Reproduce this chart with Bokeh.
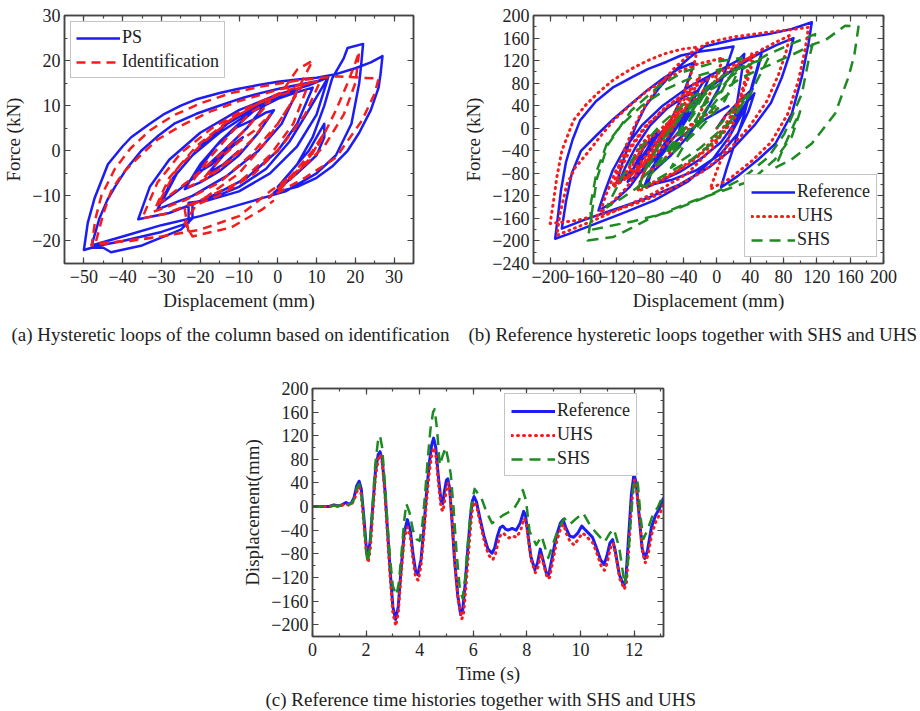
from bokeh.plotting import figure
from bokeh.models import (Range1d, LinearAxis, SingleIntervalTicker, Legend, LegendItem, Title,
                          CustomJSTickFormatter)
from bokeh.layouts import column, row
from bokeh.embed import file_html
from bokeh.resources import INLINE

# ---------------- Panel (a) data: PS vs Identification ----------------
a_ps_x = [-10, -14, -18, -13, -9, -12, -17, -21, -16, -11, -6, -3, -1, -5, -10, -15, -20, -24, -20, -15, -10, -6, -3,
          -8, -14, -21, -26, -30, -26, -20, -13, -5, 2, 5, 1, -5, -13, -22, -31, -27, -22, -15, -7, 0, 5, 9,
          5, 0, -8, -18, -28, -36, -33, -28, -20, -10, 0, 8, 13,
          10, 5, -2, -10, -18, -23, -23, -30, -40, -46, -50,
          -49, -47.2, -43.8, -40, -37.8, -33, -29.2, -25, -20.7, -15, -10.4, -5, 0, 5, 10, 15, 20, 24, 27,
          26.5, 26, 24, 21, 18, 14, 10, 5, -1,
          5, 10, 12, 12, 8, 3, 0,
          5, 9, 12, 14, 17, 18, 22, 21.5, 21, 19, 15, 10, 2, -10, -20, -30, -40, -48,
          -46, -44, -42, -39, -35.2, -31, -26.7, -21, -16.4, -12, -8.7, -4, 0, 5, 10, 13,
          8, 3, -3, -10, -17, -22, -22, -25, -35, -43, -45, -48]
a_ps_y = [0, -3, -5, 0, 3, 1, -3, -5, 1, 5, 7, 8.5, 9, 4, -1, -4.5, -7, -8.5, -3, 2, 6, 9, 10.5,
          5, 0, -5.5, -9, -11.5, -5, 1, 6, 10, 12.5, 13.2, 6, 0, -5.5, -10, -13, -6, -1, 4, 8.5, 11.5, 13, 14,
          6, 0, -6, -10.5, -13.8, -15.2, -8, -2, 4, 9, 12.5, 14.5, 16.3,
          8, 1, -5, -9, -11, -11.5, -16, -18, -20, -21, -22,
          -16, -10.4, -3, 1, 3, 6, 8.2, 10, 11.5, 12.8, 13.7, 14.6, 15.3, 15.8, 16.2, 17, 18.3, 19.6, 21,
          17, 14, 9, 4, 0, -3.5, -6, -8, -9.3,
          -5, -1, 3, 6, 0, -5, -8,
          -3, 3, 10, 16, 20.5, 22.8, 23.7, 19, 15, 6, -1, -5, -9, -12, -14.5, -16.5, -19, -21,
          -15, -11, -8, -4, 0, 3.2, 6, 8.2, 9.6, 10.9, 11.8, 12.9, 13.7, 14.6, 15.4, 16.3,
          9, 2, -4, -8, -10.5, -11.5, -15, -17.5, -21, -22.5, -21.5, -21.5]

a_id_x = [-10, -15, -19, -14, -10, -6, -2, -6, -12, -18, -23, -18, -12, -7, -2, -8, -15, -22, -28, -31, -26, -19, -12,
          -4, 3, 6, 0, -7, -15, -24, -32, -28, -21, -13, -5, 3, 8, 4, -2, -10, -20, -29, -35, -31, -25, -17, -8,
          1, 5, 9, 3, -3, -10, -18, -24, -23, -30, -40, -48,
          -47, -45.5, -42, -38, -33, -27, -20, -12, -4, 5, 15, 26,
          25, 21.7, 15, 7, -2.3, 4, 9, 12, 8, 3, 0, 6, 11, 15, 18, 20, 21, 20, 17, 12, 6, -2, -10, -20, -30, -38, -47,
          -45, -43, -40, -36, -31, -25, -18, -10, 0, 8, 11,
          7, 1, -6, -14, -21, -24, -22, -12, -4, -1]
a_id_y = [0, -4, -6, -1, 2, 4.5, 8, 3, -2, -6, -8, -2, 4, 8.5, 11, 5, -1, -6, -10, -12, -4, 2, 7,
          11, 13, 14, 6, -1, -7, -11, -13.5, -6, 1, 6.5, 10.5, 13.5, 15, 6, -1, -7, -11, -14, -15, -7, -0.5, 5, 9.5,
          13, 18, 20, 10, 2, -5, -10, -13, -18, -19, -20, -21,
          -15, -10, -4, 0.5, 4.5, 7.8, 10.5, 12.8, 14.3, 15.6, 16.5, 16,
          12.7, 6.7, -1.5, -6, -10.4, -5, 0, 4, -2, -6, -9, -4, 2, 9, 15, 19.5, 22, 15, 8, 1, -4, -9, -14.5, -17.5, -19, -20, -20.5,
          -14, -9, -5, -1.5, 2.5, 5.5, 8.5, 11, 13.5, 15, 15.5,
          8, 1, -5, -9.5, -12, -16, -19, -17, -13, -11]

# ---------------- Panel (b) data: Reference, UHS, SHS loops ----------------
b_ref_x = [0, 10, 25, 43, 35, 22, 5, -20, -45, -70, -84, -78, -68, -52, -35, -10, 20, 50, 72, 92,
           87, 78, 65, 45, 20, -10, -45, -85, -125, -160, -186,
           -181, -174, -163, -144, -125, -103, -83, -63, -45, -27,
           -33, -42, -55, -72, -92, -108, -120,
           -114, -106, -97, -86, -70, -52, -33, -15, 20, 62, 90, 114,
           110, 102, 90, 70, 50, 25, 5,
           12, 22, 32, 42, 50, 55,
           50, 42, 30, 15, -5, -35, -75, -115, -150, -175, -194,
           -191, -187, -181, -173, -164, -145, -124, -100, -83, -60, -43, -20, 0, 20,
           12, 2, -15, -35, -55, -79, -70, -58, -45, -34, -40, -45,
           -38, -28, -18, -8, -15, -28, -45, -65, -88, -107, -98, -88, -72, -85, -100, -118,
           -110, -98, -80, -60, -40, -22, -30, -42, -52, -45, -34, -42, -45,
           -60, -78, -98, -88, -72, -56, -68, -85, -105, -125, -142,
           -135, -125, -110, -90, -65, -35, 0, 25, 33, 28, 21, 30, 45,
           38, 25, 5, -25, -55, -87, -78, -62, -40, -15, 15]
b_ref_y = [0, 22, 45, 70, 45, 10, -25, -55, -78, -95, -105, -75, -40, 0, 35, 70, 105, 132, 148, 160,
           130, 90, 45, 5, -35, -70, -100, -125, -145, -163, -178,
           -130, -80, -40, -12, 15, 43, 68, 90, 106, 117,
           90, 55, 15, -25, -60, -82, -96,
           -65, -30, 5, 38, 70, 100, 125, 145, 157, 167, 176, 188,
           150, 91, 26, -28, -55, -85, -105,
           -70, -25, 20, 75, 115, 141,
           110, 70, 25, -15, -55, -95, -128, -152, -172, -186, -196,
           -160, -110, -60, -20, 14, 48, 73, 92, 105, 118, 129, 136, 140, 145,
           110, 70, 25, -15, -48, -80, -50, -15, 12, 30, 10, -2,
           25, 55, 78, 95, 70, 35, -5, -40, -75, -95, -65, -35, -8, -40, -72, -98,
           -70, -35, 5, 35, 55, 67, 45, 15, -5, 18, 38, 15, 8,
           -25, -60, -85, -50, -15, 8, -25, -65, -105, -132, -146,
           -115, -75, -35, 5, 40, 72, 100, 120, 132, 80, 14, 35, 62,
           30, -10, -45, -75, -92, -103, -70, -40, -12, 15, 40]

b_uhs_x = [0, 10, 22, 33, 25, 10, -10, -35, -60, -80, -95, -88, -78, -62, -42, -15, 15, 45, 70, 88,
           83, 74, 60, 40, 15, -15, -50, -90, -130, -170, -200,
           -196, -192, -186, -172, -158, -144, -124, -103, -83, -63, -43, -23,
           -27, -35, -48, -66, -88, -108, -125,
           -118, -110, -100, -88, -70, -50, -30, -10, 20, 60, 90, 110,
           106, 98, 85, 65, 42, 15, -8,
           0, 12, 22, 32, 38, 42,
           37, 28, 15, -5, -35, -75, -115, -150, -175, -192,
           -188, -180, -170, -156, -140, -124, -103, -83, -63, -43, -23, 0, 8,
           0, -10, -25, -45, -65, -90, -80, -67, -55, -45, -50, -55,
           -48, -38, -28, -20, -28, -40, -58, -78, -98, -112, -104, -94, -80, -92, -106, -122,
           -115, -103, -85, -65, -45, -30, -40, -55, -65, -57, -45, -52, -55,
           -70, -88, -108, -98, -80, -60, -72, -90, -110, -128, -140,
           -133, -122, -105, -85, -58, -25, 10, 35, 45,
           38, 25, 5, -20, -50, -75, -95, -85, -68, -45, -20, 5]
b_uhs_y = [0, 20, 40, 58, 30, -5, -35, -65, -88, -102, -112, -80, -45, -5, 30, 68, 102, 132, 152, 165,
           135, 95, 48, 5, -38, -75, -105, -130, -150, -164, -169,
           -130, -87, -40, 14, 40, 61, 86, 105, 120, 132, 140, 144,
           115, 78, 35, -10, -55, -88, -105,
           -70, -35, 0, 35, 75, 108, 135, 152, 162, 170, 175, 179,
           140, 85, 25, -25, -58, -90, -108,
           -75, -30, 20, 75, 110, 132,
           100, 55, 10, -35, -80, -115, -142, -165, -180, -190,
           -150, -100, -70, -45, -15, 14, 42, 67, 85, 102, 114, 122, 125,
           95, 55, 15, -25, -58, -88, -55, -20, 5, 22, 5, -5,
           25, 55, 78, 92, 65, 28, -12, -48, -78, -92, -65, -35, -10, -42, -72, -100,
           -72, -35, 3, 33, 55, 66, 40, 5, -12, 12, 35, 15, 8,
           -25, -62, -90, -55, -18, 8, -28, -70, -108, -135, -150,
           -118, -78, -35, 5, 40, 75, 105, 122, 130,
           90, 40, -5, -45, -78, -95, -106, -70, -38, -8, 18, 38]

b_shs_x = [0, 15, 38, 20, 0, -30, -65, -95, -85, -65, -40, -10, 25, 60, 90, 118,
           110, 102, 81, 62, 30, -10, -60, -100, -150,
           -152, -144, -132, -115, -90, -60, -30, 5, -10, -25, -40, -58, -45, -25, 0, 30, 60, 90, 118, 130, 154, 170,
           165, 158, 142, 114, 90, 70, 80, 92, 100, 90, 70, 41, 9, -30, -80, -124, -155,
           -150, -144, -131, -103, -71, -40, 0, 30, 15, 0, -28, -10, 10, 28, 10, -20, -42, -65, -50, -70, -87,
           -70, -45, -20, -30, -11, -31, -45, -60, -39, -60, -90, -115, -132,
           -115, -95, -65, -30, 10, 40, 62, 40, 15, -20, -55, -35, -14, 5, 22]
b_shs_y = [0, 25, 60, 20, -20, -55, -85, -110, -70, -20, 25, 65, 100, 130, 150, 167,
           120, 61, -10, -51, -90, -120, -150, -165, -180,
           -140, -75, -28, 5, 40, 70, 90, 105, 60, 15, -20, -45, -10, 30, 60, 90, 110, 130, 150, 156, 182, 180,
           130, 91, 26, -27, -55, -70, -35, 5, 30, -15, -55, -93, -110, -130, -160, -193, -199,
           -150, -90, -30, 31, 73, 100, 118, 125, 90, 50, 0, 40, 80, 110, 50, 0, -30, -60, -20, -60, -85,
           -30, 20, 60, 30, 70, 20, -20, -45, 10, -50, -100, -125, -140,
           -90, -40, 10, 55, 95, 115, 125, 60, 10, -35, -70, -20, 20, 50, 70]

# ---------------- Panel (c) data: displacement time histories ----------------
c_ref_t = [0, 0.6, 0.8, 0.95, 1.1, 1.25, 1.35, 1.45, 1.55, 1.65, 1.74, 1.82, 1.92, 2.0, 2.07, 2.15, 2.25, 2.35, 2.45, 2.52,
           2.6, 2.7, 2.8, 2.9, 3.0, 3.1, 3.2, 3.3, 3.42, 3.54, 3.65, 3.75, 3.85, 3.93, 4.05, 4.15, 4.25, 4.35, 4.45,
           4.52, 4.6, 4.7, 4.8, 4.86, 4.92, 5.0, 5.05, 5.12, 5.2, 5.3, 5.42, 5.53, 5.6, 5.7, 5.8, 5.9, 5.97, 6.03,
           6.12, 6.25, 6.4, 6.55, 6.7, 6.8, 6.9, 7.0, 7.1, 7.2, 7.3, 7.45, 7.6, 7.75, 7.88, 7.95, 8.05, 8.15, 8.3,
           8.4, 8.5, 8.6, 8.75, 8.82, 8.95, 9.1, 9.25, 9.35, 9.45, 9.6, 9.75, 9.9, 10.05, 10.15, 10.3, 10.45, 10.6,
           10.75, 10.88, 10.98, 11.1, 11.2, 11.3, 11.45, 11.62, 11.7, 11.8, 11.9, 12.0, 12.08, 12.2, 12.3, 12.4,
           12.5, 12.65, 12.8, 12.95, 13.1]
c_ref_d = [0, 0, 3, 1, 3, 7, 4, 6, 15, 35, 43, 30, -20, -65, -84, -60, 0, 60, 88, 93,
           80, 30, -40, -110, -170, -191, -170, -110, -45, -22, -40, -80, -110, -115, -90, -40, 20, 70, 105,
           116, 100, 50, 8, 5, 25, 45, 47, 30, -20, -90, -150, -183, -178, -130, -70, -15, 10, 17,
           8, -20, -50, -72, -79, -70, -50, -36, -33, -38, -40, -37, -40, -28, -8, -15, -50, -85, -107,
           -95, -72, -90, -117, -115, -85, -50, -28, -22, -35, -50, -52, -45, -33, -38, -45, -52, -70,
           -90, -98, -85, -62, -56, -75, -115, -135, -120, -50, 20, 56, 40, -20, -70, -88,
           -75, -35, -15, -3, 15]

c_uhs_t = [0, 0.6, 0.8, 0.95, 1.1, 1.25, 1.35, 1.45, 1.55, 1.65, 1.74, 1.82, 1.92, 2.0, 2.08, 2.16, 2.25, 2.35, 2.45, 2.53,
           2.6, 2.7, 2.8, 2.9, 3.0, 3.11, 3.2, 3.3, 3.42, 3.55, 3.65, 3.75, 3.85, 3.95, 4.05, 4.15, 4.25, 4.35, 4.45,
           4.53, 4.6, 4.7, 4.8, 4.87, 4.94, 5.02, 5.07, 5.14, 5.22, 5.32, 5.44, 5.57, 5.63, 5.72, 5.82, 5.92, 5.98, 6.05,
           6.14, 6.27, 6.42, 6.57, 6.73, 6.83, 6.93, 7.03, 7.13, 7.23, 7.33, 7.48, 7.62, 7.77, 7.9, 7.97, 8.07, 8.17, 8.32,
           8.42, 8.52, 8.62, 8.77, 8.85, 8.97, 9.12, 9.27, 9.37, 9.47, 9.62, 9.77, 9.92, 10.07, 10.17, 10.32, 10.47, 10.62,
           10.77, 10.9, 11.0, 11.12, 11.22, 11.32, 11.47, 11.64, 11.72, 11.82, 11.92, 12.02, 12.1, 12.22, 12.32, 12.42,
           12.52, 12.67, 12.82, 12.97, 13.1]
c_uhs_d = [0, 0, 2, 0, 2, 5, 2, 4, 10, 25, 33, 20, -30, -75, -95, -70, -10, 50, 80, 88,
           75, 25, -50, -120, -180, -202, -180, -120, -55, -35, -50, -90, -120, -125, -100, -50, 5, 55, 88,
           100, 88, 40, -3, -8, 12, 35, 40, 20, -30, -100, -160, -190, -185, -140, -80, -25, 0, 8,
           -2, -30, -60, -82, -90, -80, -60, -47, -45, -50, -53, -50, -52, -40, -20, -26, -60, -92, -112,
           -102, -80, -97, -122, -120, -92, -58, -36, -30, -45, -60, -65, -55, -45, -48, -55, -62, -80,
           -100, -108, -95, -70, -62, -82, -122, -140, -128, -60, 10, 45, 30, -28, -78, -95,
           -82, -45, -25, -12, 5]

c_shs_t = [0, 0.6, 0.8, 0.95, 1.1, 1.25, 1.35, 1.45, 1.55, 1.65, 1.74, 1.82, 1.92, 2.0, 2.06, 2.14, 2.24, 2.34, 2.44, 2.52,
           2.6, 2.7, 2.8, 2.9, 3.0, 3.13, 3.22, 3.32, 3.42, 3.5, 3.62, 3.75, 3.88, 4.0, 4.1, 4.2, 4.3, 4.4, 4.5,
           4.56, 4.65, 4.75, 4.85, 4.97, 5.06, 5.16, 5.26, 5.38, 5.5, 5.6, 5.7, 5.8, 5.92, 6.05, 6.18, 6.3, 6.5, 6.7,
           6.9, 7.1, 7.3, 7.5, 7.7, 7.85, 7.97, 8.1, 8.35, 8.55, 8.8, 9.0, 9.2, 9.4, 9.6, 9.85, 10.1, 10.35, 10.6,
           10.9, 11.1, 11.25, 11.45, 11.65, 11.75, 11.85, 11.95, 12.05, 12.15, 12.25, 12.35, 12.5, 12.7, 12.9, 13.1]
c_shs_d = [0, 0, 2, 1, 3, 6, 3, 5, 12, 30, 38, 25, -25, -75, -95, -70, 0, 70, 110, 120,
           100, 40, -30, -90, -135, -150, -130, -80, -25, 5, -10, -40, -55, -58, -30, 20, 80, 130, 160,
           165, 130, 70, 85, 100, 80, 55, 0, -80, -140, -155, -120, -60, 0, 30, 22, 15, -10, -28,
           -22, -15, -10, -5, 10, 28, 10, -42, -65, -50, -87, -60, -35, -20, -30, -20, -11, -31, -45,
           -60, -45, -38, -70, -132, -110, -40, 20, 62, 35, -20, -55, -40, -14, 0, 22]

captions = ["(a) Hysteretic loops of the column based on identification",
            "(b) Reference hysteretic loops together with SHS and UHS",
            "(c) Reference time histories together with SHS and UHS"]

# ---------------- styling ----------------
SERIF = "Liberation Serif"
BLUE = "#1c1cf5"
RED = "#f51c1c"
GREEN = "#1e8a22"
FRAME = "#444444"
TXT = "#222222"


def make_fig(w, h, xr, yr, xint, yint, borders, xlabel, ylabel):
    l, r, t, b = borders
    p = figure(width=w, height=h, x_range=Range1d(*xr), y_range=Range1d(*yr),
               output_backend="svg", toolbar_location=None,
               min_border_left=l, min_border_right=r, min_border_top=t, min_border_bottom=b,
               x_axis_location=None, y_axis_location=None)
    p.grid.visible = False
    p.outline_line_color = FRAME
    p.outline_line_width = 1.5
    p.background_fill_color = "white"
    p.border_fill_color = "white"
    for side, iv, lab in (("below", xint, xlabel), ("above", xint, None),
                          ("left", yint, ylabel), ("right", yint, None)):
        ax = LinearAxis(ticker=SingleIntervalTicker(interval=iv, num_minor_ticks=2))
        ax.axis_line_color = FRAME
        ax.axis_line_width = 1.5
        ax.major_tick_in = 6
        ax.major_tick_out = 0
        ax.minor_tick_in = 3
        ax.minor_tick_out = 0
        ax.major_tick_line_color = FRAME
        ax.minor_tick_line_color = FRAME
        ax.major_tick_line_width = 1.2
        ax.minor_tick_line_width = 1.2
        if lab is None:
            ax.formatter = CustomJSTickFormatter(code="return ''")
            ax.major_label_text_font_size = "8px"
            ax.major_label_standoff = 0
        else:
            ax.axis_label = lab
            ax.axis_label_text_font = SERIF
            ax.axis_label_text_font_size = "19px"
            ax.axis_label_text_font_style = "normal"
            ax.axis_label_text_color = TXT
            ax.major_label_text_font = SERIF
            ax.major_label_text_font_size = "18px"
            ax.major_label_text_color = TXT
            if side == "below":
                ax.major_label_standoff = 6
                ax.axis_label_standoff = 4
            else:
                ax.major_label_standoff = 4
                ax.axis_label_standoff = 5
        p.add_layout(ax, side)
    return p


def add_caption(p, text, offset, standoff):
    cap = Title(text=text, align="left", offset=offset, standoff=standoff,
                text_font=SERIF, text_font_size="19px", text_font_style="normal",
                text_color=TXT)
    p.add_layout(cap, "below")


def style_legend(leg):
    leg.label_text_font = SERIF
    leg.label_text_font_size = "18px"
    leg.label_text_color = TXT
    leg.glyph_width = 44
    leg.glyph_height = 18
    leg.label_height = 18
    leg.label_standoff = 2
    leg.spacing = 3
    leg.padding = 6
    leg.margin = 6
    leg.border_line_color = "#8a8a8a"
    leg.border_line_width = 1.5
    leg.background_fill_color = "white"
    leg.background_fill_alpha = 1.0


# ---- panel (a)
pa = make_fig(455, 355, (-55, 35), (-25, 30), 10, 10, (63, 42, 15, 92),
              "Displacement (mm)", "Force (kN)")
ra1 = pa.line(a_ps_x, a_ps_y, line_color=BLUE, line_width=2.5, line_join="round")
ra2 = pa.line(a_id_x, a_id_y, line_color=RED, line_width=2.5, line_dash="9 6", line_join="round")
lega = Legend(items=[LegendItem(label="PS", renderers=[ra1]),
                     LegendItem(label="Identification", renderers=[ra2])], location="top_left")
style_legend(lega)
lega.padding = 5
pa.add_layout(lega, "center")
add_caption(pa, captions[0], -53, 17)

# ---- panel (b)
pb = make_fig(465, 355, (-220, 200), (-240, 200), 40, 40, (78, 37, 15, 92),
              "Displacement (mm)", "Force (kN)")
rb1 = pb.line(b_ref_x, b_ref_y, line_color=BLUE, line_width=2.5, line_join="round")
rb2 = pb.line(b_uhs_x, b_uhs_y, line_color=RED, line_width=3, line_dash="1 5", line_cap="round", line_join="round")
rb3 = pb.line(b_shs_x, b_shs_y, line_color=GREEN, line_width=2.5, line_dash="11 7", line_join="round")
legb = Legend(items=[LegendItem(label="Reference", renderers=[rb1]),
                     LegendItem(label="UHS", renderers=[rb2]),
                     LegendItem(label="SHS", renderers=[rb3])], location="bottom_right")
style_legend(legb)
pb.add_layout(legb, "center")
add_caption(pb, captions[1], -65, 17)

# ---- panel (c)
pc = make_fig(920, 356, (0, 13.1), (-220, 200), 2, 40, (312, 257, 33, 75),
              "Time (s)", "Displacement(mm)")
rc1 = pc.line(c_ref_t, c_ref_d, line_color=BLUE, line_width=3, line_join="round")
rc2 = pc.line(c_uhs_t, c_uhs_d, line_color=RED, line_width=3, line_dash="1 5", line_cap="round", line_join="round")
rc3 = pc.line(c_shs_t, c_shs_d, line_color=GREEN, line_width=2.5, line_dash="11 7", line_join="round")
legc = Legend(items=[LegendItem(label="Reference", renderers=[rc1]),
                     LegendItem(label="UHS", renderers=[rc2]),
                     LegendItem(label="SHS", renderers=[rc3])], location=(192, 160))
style_legend(legc)
pc.add_layout(legc, "center")
add_caption(pc, captions[2], -47, 0)

layout = column(row(pa, pb), pc)
open("out.html", "w").write(file_html(layout, INLINE))
